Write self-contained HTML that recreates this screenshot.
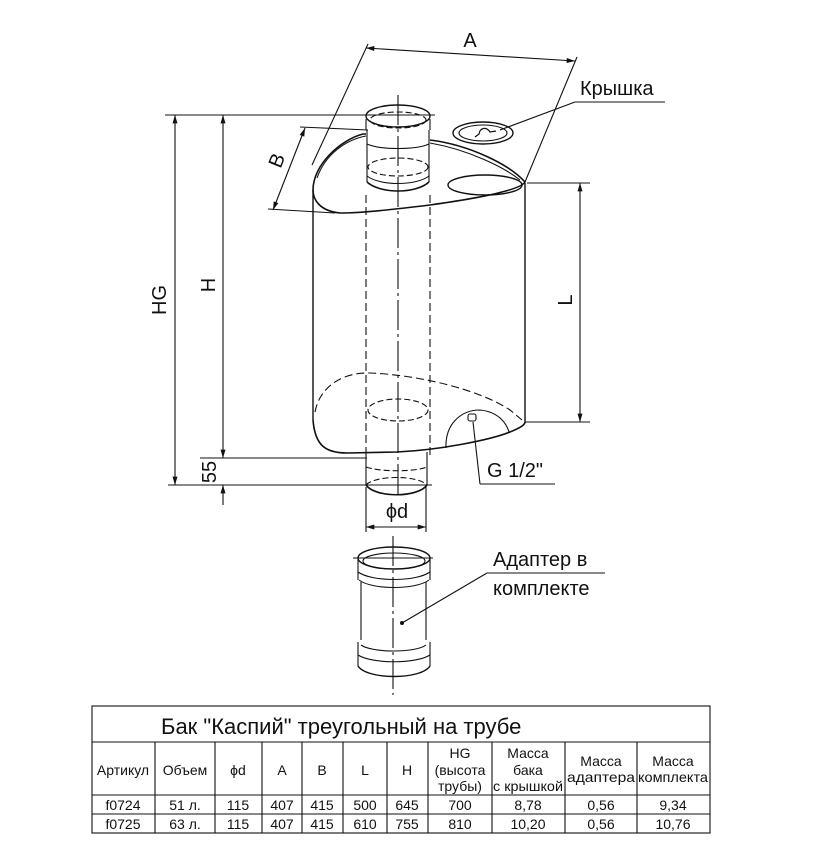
<!DOCTYPE html>
<html><head><meta charset="utf-8"><style>
body{margin:0;background:#fff;width:820px;height:860px;overflow:hidden}
svg{display:block}
text{font-family:"Liberation Sans",sans-serif;fill:#111}
</style></head><body>
<svg width="820" height="860" viewBox="0 0 820 860" xmlns="http://www.w3.org/2000/svg">
<defs>
<marker id="ar" viewBox="0 0 10 6" refX="10" refY="3" markerWidth="12" markerHeight="5" orient="auto-start-reverse" markerUnits="userSpaceOnUse"><path d="M0,0L10,3L0,6z" fill="#111"/></marker>
</defs>
<g stroke="#111" fill="none" stroke-width="1.1">
<line x1="165" y1="115" x2="435" y2="115"/>
<line x1="200" y1="458" x2="367" y2="458"/>
<line x1="168" y1="485" x2="432" y2="485"/>
<line x1="527" y1="183" x2="590" y2="183"/>
<line x1="525" y1="422" x2="590" y2="422"/>
<line x1="175" y1="115" x2="175" y2="485" marker-start="url(#ar)" marker-end="url(#ar)"/>
<line x1="223" y1="115" x2="223" y2="458" marker-start="url(#ar)" marker-end="url(#ar)"/>
<line x1="223" y1="485" x2="223" y2="505" marker-start="url(#ar)"/>
<line x1="580" y1="183" x2="580" y2="422" marker-start="url(#ar)" marker-end="url(#ar)"/>
<line x1="366" y1="48" x2="575" y2="61" marker-start="url(#ar)" marker-end="url(#ar)"/>
<line x1="368" y1="44" x2="312" y2="165"/>
<line x1="577" y1="57" x2="525" y2="182"/>
<line x1="305" y1="128" x2="273" y2="210" marker-start="url(#ar)" marker-end="url(#ar)"/>
<line x1="300" y1="127" x2="368" y2="130"/>
<line x1="268" y1="209" x2="335" y2="213"/>
<line x1="366" y1="527" x2="426" y2="527" marker-start="url(#ar)" marker-end="url(#ar)"/>
<line x1="366" y1="487" x2="366" y2="532"/>
<line x1="426" y1="487" x2="426" y2="532"/>
<line x1="398" y1="95" x2="398" y2="497" stroke-dasharray="30 4 3 4"/>
<line x1="313" y1="190" x2="313" y2="420" stroke-width="1.4"/>
<line x1="525" y1="183" x2="525" y2="422" stroke-width="1.4"/>
<path d="M313,190 C313,165 340,140 363,134 L366,134 M430,140 C470,145 510,165 525,182 C520,190 480,198 430,205 C390,210 360,213 340,213 C320,211 313,200 313,190" stroke-width="1.6"/>
<path d="M317,178 C325,155 345,140 366,136 M430,143 C470,150 505,168 520,180"/>
<ellipse cx="485" cy="185" rx="37" ry="10" stroke-width="1.4"/>
<ellipse cx="398" cy="116" rx="32" ry="11" stroke-width="1.4"/>
<ellipse cx="398" cy="120" rx="28" ry="8" stroke-dasharray="6 3"/>
<path d="M366,119 V130 M430,119 V130"/>
<path d="M367,130 V182 M429,130 V182"/>
<path d="M367,144 C380,150 416,150 429,144" />
<ellipse cx="398" cy="167" rx="30" ry="9" stroke-dasharray="6 3"/>
<path d="M367,182 C380,194 416,194 429,182" stroke-width="1.6"/>
<path d="M367,176 C380,186 416,186 429,176"/>
<line x1="366" y1="195" x2="366" y2="458" stroke-dasharray="8 4"/>
<line x1="430" y1="195" x2="430" y2="458" stroke-dasharray="8 4"/>
<ellipse cx="398" cy="410" rx="30" ry="11" stroke-dasharray="6 3"/>
<ellipse cx="483" cy="133" rx="30" ry="11" stroke-width="1.4"/>
<ellipse cx="483" cy="133" rx="24" ry="8"/>
<path d="M475,137 L479,134 C480,128 486,126 490,132 L496,131" stroke-width="1.2"/>
<line x1="500" y1="130" x2="575" y2="102"/>
<line x1="575" y1="102" x2="665" y2="102"/>
<path d="M313,420 C315,445 325,453 347,453 L397,452 C440,450 490,440 510,432 C520,428 525,425 525,422" stroke-width="1.6"/>
<path d="M315,412 C320,385 345,372 370,373 C420,375 480,390 510,410 L522,420" stroke-dasharray="8 4"/>
<path d="M446,448 C445,425 460,410 480,410 C500,412 507,425 509,432"/>
<rect x="468" y="414" width="8" height="7" rx="2"/>
<line x1="473" y1="422" x2="480" y2="484"/>
<line x1="480" y1="484" x2="555" y2="484"/>
<path d="M366,454 V485 M427,452 V485"/>
<path d="M366,467 C380,472 415,472 427,467" stroke-dasharray="6 3"/>
<path d="M366,485 C375,498 418,498 427,485" stroke-width="1.6"/>
<path d="M366,485 C375,475 418,475 427,485" stroke-dasharray="6 3"/>
<!-- adapter -->
<line x1="393" y1="536" x2="393" y2="695" stroke-dasharray="30 4 3 4"/>
<line x1="353" y1="558" x2="433" y2="558"/>
<ellipse cx="394" cy="558" rx="36" ry="11" stroke-width="1.4"/>
<ellipse cx="394" cy="561" rx="31" ry="8"/>
<path d="M358,558 V580 M430,558 V580 M361,582 V640 M426,582 V640 M358,642 V666 M430,642 V666"/>
<path d="M358,572 C372,582 416,582 430,572 M359,580 C372,590 416,590 429,580 M361,645 C372,653 416,653 426,645 M358,655 C372,664 416,664 430,655"/>
<path d="M358,666 C367,680 421,680 430,666" stroke-width="1.4"/>
<line x1="402" y1="623" x2="487" y2="573"/>
<line x1="487" y1="573" x2="605" y2="573"/>
<rect x="92" y="706" width="618" height="127"/>
<line x1="92" y1="742" x2="710" y2="742"/>
<line x1="92" y1="795" x2="710" y2="795"/>
<line x1="92" y1="814" x2="710" y2="814"/>
<path d="M155,742V833M215,742V833M262,742V833M302,742V833M343,742V833M387,742V833M428,742V833M492,742V833M565,742V833M637,742V833"/>
</g>
<circle cx="402" cy="623" r="2" fill="#111"/>
<g font-size="20">
<text x="470" y="47" text-anchor="middle">A</text>
<text x="580" y="95">Крышка</text>
<text transform="translate(166,300) rotate(-90)" text-anchor="middle">HG</text>
<text transform="translate(215,285) rotate(-90)" text-anchor="middle">H</text>
<text transform="translate(572,300) rotate(-90)" text-anchor="middle">L</text>
<text transform="translate(283,163) rotate(-68)" text-anchor="middle">B</text>
<text transform="translate(216,472) rotate(-90)" text-anchor="middle">55</text>
<text x="397" y="518" text-anchor="middle">ϕd</text>
<text x="487" y="477">G 1/2"</text>
<text x="493" y="566">Адаптер в</text>
<text x="493" y="595">комплекте</text>
<text x="161" y="734" font-size="22">Бак "Каспий" треугольный на трубе</text>
</g>
<g font-size="14" text-anchor="middle">
<text x="123" y="775">Артикул</text>
<text x="185" y="775">Объем</text>
<text x="238" y="775">ϕd</text>
<text x="282" y="775">A</text>
<text x="322" y="775">B</text>
<text x="365" y="775">L</text>
<text x="407" y="775">H</text>
<text x="460" y="758">HG</text><text x="460" y="775">(высота</text><text x="460" y="791">трубы)</text>
<text x="528" y="758">Масса</text><text x="528" y="775">бака</text><text x="528" y="791" textLength="70" lengthAdjust="spacingAndGlyphs">с крышкой</text>
<text x="601" y="766">Масса</text><text x="601" y="782" textLength="68" lengthAdjust="spacingAndGlyphs">адаптера</text>
<text x="673" y="766">Масса</text><text x="673" y="782" textLength="70" lengthAdjust="spacingAndGlyphs">комплекта</text>
<text x="123" y="810">f0724</text><text x="185" y="810">51 л.</text><text x="238" y="810">115</text><text x="282" y="810">407</text><text x="322" y="810">415</text><text x="365" y="810">500</text><text x="407" y="810">645</text><text x="460" y="810">700</text><text x="528" y="810">8,78</text><text x="601" y="810">0,56</text><text x="673" y="810">9,34</text>
<text x="123" y="829">f0725</text><text x="185" y="829">63 л.</text><text x="238" y="829">115</text><text x="282" y="829">407</text><text x="322" y="829">415</text><text x="365" y="829">610</text><text x="407" y="829">755</text><text x="460" y="829">810</text><text x="528" y="829">10,20</text><text x="601" y="829">0,56</text><text x="673" y="829">10,76</text>
</g>
</svg>
</body></html>
